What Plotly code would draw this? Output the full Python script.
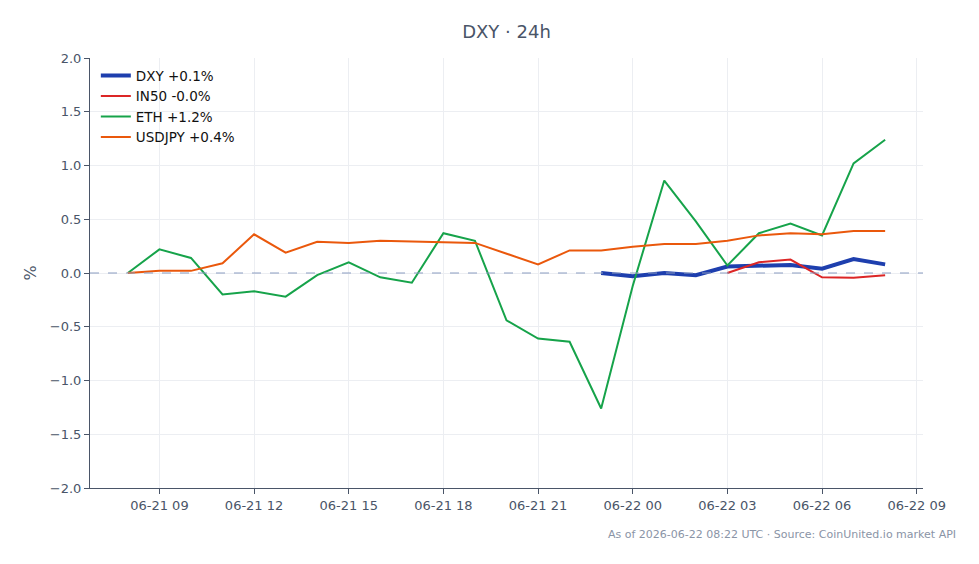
import plotly.graph_objects as go
import pandas as pd

times = pd.date_range("2026-06-21 08:00", "2026-06-22 08:00", freq="h")

eth = [0.0, 0.22, 0.14, -0.20, -0.17, -0.22, -0.02, 0.10, -0.04, -0.09, 0.37, 0.30,
       -0.44, -0.61, -0.64, -1.26, -0.12, 0.86, 0.48, 0.07, 0.37, 0.46, 0.35, 1.02, 1.24]
usdjpy = [0.0, 0.02, 0.02, 0.09, 0.36, 0.19, 0.29, 0.28, 0.30, 0.29, 0.285, 0.28,
          0.18, 0.08, 0.21, 0.21, 0.245, 0.27, 0.27, 0.30, 0.35, 0.37, 0.36, 0.39, 0.39]
dxy = [0.00, -0.03, 0.00, -0.02, 0.06, 0.065, 0.075, 0.04, 0.13, 0.08]
in50 = [0.00, 0.10, 0.125, -0.04, -0.045, -0.02]

font = "DejaVu Sans, sans-serif"
fig = go.Figure()
fig.add_trace(go.Scatter(x=times[15:], y=dxy, mode="lines", name="DXY +0.1%",
                         line=dict(color="#1e3fae", width=4)))
fig.add_trace(go.Scatter(x=times[19:], y=in50, mode="lines", name="IN50 -0.0%",
                         line=dict(color="#dc2626", width=2)))
fig.add_trace(go.Scatter(x=times, y=eth, mode="lines", name="ETH +1.2%",
                         line=dict(color="#16a34a", width=2)))
fig.add_trace(go.Scatter(x=times, y=usdjpy, mode="lines", name="USDJPY +0.4%",
                         line=dict(color="#ea580c", width=2)))

fig.add_hline(y=0, line=dict(color="#8a9cc0", width=1, dash="dash"))

pad = pd.Timedelta(minutes=72)
fig.update_layout(
    width=979, height=564,
    margin=dict(l=90, r=56, t=58, b=76),
    paper_bgcolor="white", plot_bgcolor="white",
    font=dict(family=font, color="#4a5568", size=13),
    title=dict(text="DXY · 24h", x=0.5, xref="paper", xanchor="center", y=0.943,
               yanchor="middle", font=dict(size=18, color="#4a5568")),
    showlegend=True,
    legend=dict(x=0.007, y=0.995, xanchor="left", yanchor="top",
                bgcolor="rgba(255,255,255,0)", font=dict(size=13.5, color="#111111"),
                tracegroupgap=0),
    xaxis=dict(range=[times[0] - pad, times[-1] + pad], tickformat="%m-%d %H",
               dtick=3 * 3600 * 1000, tick0="2026-06-21 00:00",
               showgrid=True, gridcolor="#eceef2", showline=True, linecolor="#4a5568",
               ticks="outside", tickcolor="#4a5568", ticklen=5, zeroline=False),
    yaxis=dict(range=[-2, 2], dtick=0.5, tickformat=".1f", title=dict(text="%", standoff=9),
               showgrid=True, gridcolor="#eceef2", showline=True, linecolor="#4a5568",
               ticks="outside", tickcolor="#4a5568", ticklen=5, zeroline=False),
    annotations=[dict(text="As of 2026-06-22 08:22 UTC · Source: CoinUnited.io market API",
                      xref="paper", yref="paper", x=1.042, y=-0.107, xanchor="right",
                      yanchor="middle", showarrow=False,
                      font=dict(size=11, color="#8a94a6"))],
)

fig.write_html("out.html")
